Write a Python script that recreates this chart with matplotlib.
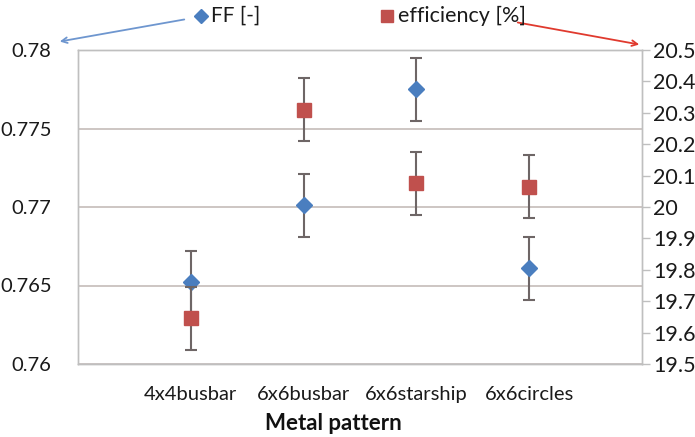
import numpy as np
import matplotlib
matplotlib.use('Agg')
import matplotlib.pyplot as plt
from matplotlib.lines import Line2D

plt.rcParams['font.family'] = ['Lato', 'DejaVu Sans']

# ---------------------------------------------------------------------------- #
#                                    data                                      #
# ---------------------------------------------------------------------------- #
patterns = ['4x4busbar', '6x6busbar', '6x6starship', '6x6circles']
ff = [0.7652, 0.7701, 0.7775, 0.7661]
ff_err = [0.002, 0.002, 0.002, 0.002]
eff = [19.645, 20.31, 20.075, 20.065]
eff_err = [0.1, 0.1, 0.1, 0.1]

left_ticks = [0.76, 0.765, 0.77, 0.775, 0.78]
left_labels = ['0.76', '0.765', '0.77', '0.775', '0.78']
right_ticks = [19.5, 19.6, 19.7, 19.8, 19.9, 20.0, 20.1, 20.2, 20.3, 20.4, 20.5]
right_labels = ['19.5', '19.6', '19.7', '19.8', '19.9', '20', '20.1', '20.2', '20.3', '20.4', '20.5']

blue = '#4A7EBF'
red = '#C0504D'
errc = '#6E6666'
gridc = '#C9C2BE'
txtc = '#1A1A1A'

fig = plt.figure(figsize=(6.95, 4.37), dpi=100)
ax = fig.add_axes([78 / 695, 1 - 364 / 437, 564 / 695, 314 / 437])
ax2 = ax.twinx()

x = np.arange(1, len(patterns) + 1)

ax.errorbar(x, ff, yerr=ff_err, fmt='D', color=blue, markersize=8.5,
            ecolor=errc, elinewidth=1.5, capsize=4, capthick=1.5, zorder=3)
ax2.errorbar(x, eff, yerr=eff_err, fmt='s', color=red, markersize=9.5,
             ecolor=errc, elinewidth=1.5, capsize=4, capthick=1.5, zorder=3)

ax.set_xlim(0, 5)
ax.set_ylim(0.76, 0.78)
ax2.set_ylim(19.5, 20.5)

for yv in left_ticks:
    ax.axhline(yv, color=gridc, lw=1.3, zorder=0)

ax.set_yticks(left_ticks)
ax.set_yticklabels(left_labels)
ax.tick_params(axis='y', length=0, pad=19, labelsize=14.5, labelcolor=txtc)
ax2.set_yticks(right_ticks)
ax2.set_yticklabels(right_labels)
ax2.tick_params(axis='y', length=6, width=1, color='#BFBFBF', pad=2,
                labelsize=15.5, labelcolor=txtc)

ax.set_xticks(x)
ax.set_xticklabels(patterns)
ax.tick_params(axis='x', length=0, pad=16, labelsize=14.5, labelcolor=txtc)
ax.set_xlabel('Metal pattern', fontsize=16, fontweight='bold', color='#111111')
ax.xaxis.set_label_coords(0.452, -0.155)

for a in (ax, ax2):
    for s in a.spines.values():
        s.set_color('#BFBFBF')
        s.set_linewidth(1)

# legend at top, placed by hand
fig.add_artist(Line2D([201 / 695], [1 - 16 / 437], marker='D', color=blue,
                      ls='none', markersize=7, transform=fig.transFigure))
fig.text(211 / 695, 1 - 16 / 437, 'FF [-]', fontsize=15, color=txtc,
         va='center', ha='left')
fig.add_artist(Line2D([387 / 695], [1 - 16 / 437], marker='s', color=red,
                      ls='none', markersize=9, transform=fig.transFigure))
fig.text(398 / 695, 1 - 16 / 437, 'efficiency [%]', fontsize=15.5, color=txtc,
         va='center', ha='left')

# arrows to the axes
ax.annotate('', xy=(57 / 695, 1 - 42 / 437), xycoords='figure fraction',
            xytext=(187 / 695, 1 - 19 / 437), textcoords='figure fraction',
            arrowprops=dict(arrowstyle='->', color='#6E96CF', lw=1.3))
ax.annotate('', xy=(642 / 695, 1 - 45 / 437), xycoords='figure fraction',
            xytext=(515 / 695, 1 - 22 / 437), textcoords='figure fraction',
            arrowprops=dict(arrowstyle='->', color='#E03A2E', lw=1.3))

fig.savefig('out.png', dpi=100)
